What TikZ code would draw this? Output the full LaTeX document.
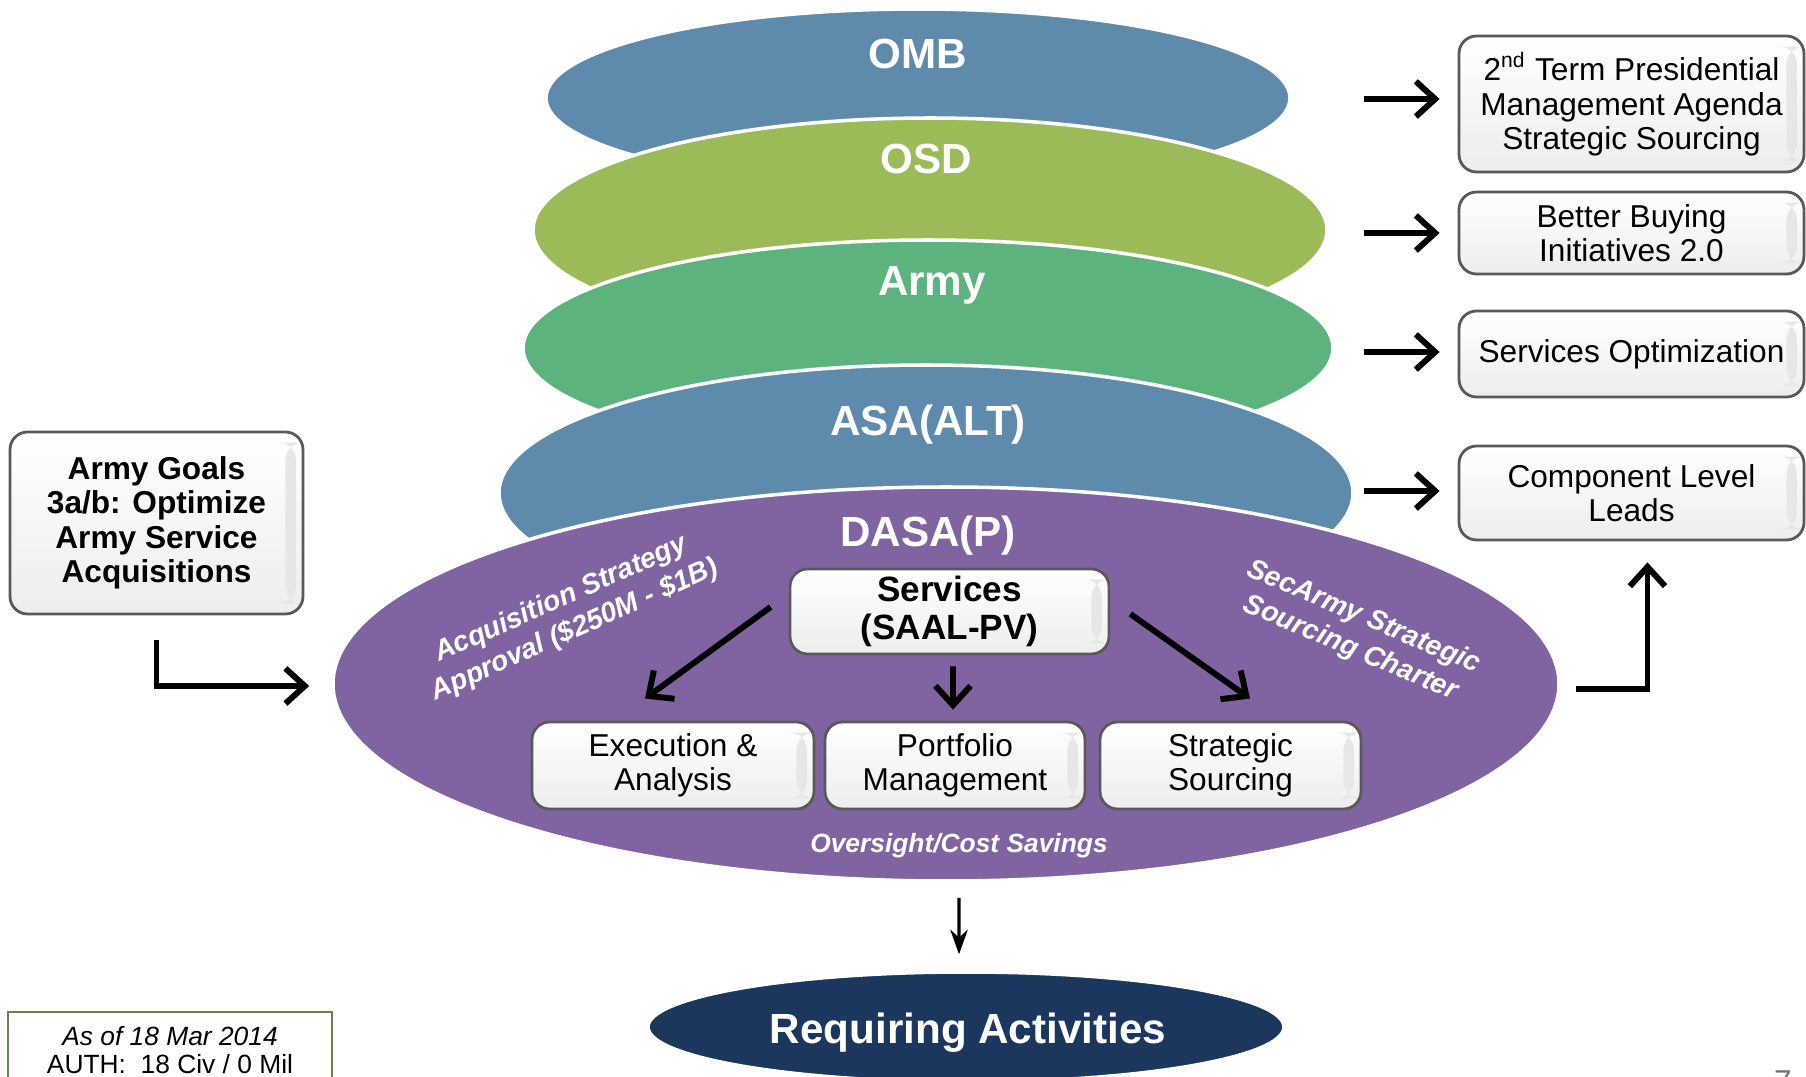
\documentclass[tikz,border=0pt]{standalone}
\usepackage{fontspec}
\setmainfont{Liberation Sans}
\usepackage{tikz}
\usetikzlibrary{
    arrows.meta,
    calc,
    positioning,
    shapes.geometric
}
\definecolor{layerblue}{HTML}{5E8BAB}
\definecolor{osdgreen}{HTML}{9BBB59}
\definecolor{armygreen}{HTML}{5DB37E}
\definecolor{dasapurple}{HTML}{8064A2}
\definecolor{reqnavy}{HTML}{1B375E}
\definecolor{frameolive}{HTML}{6E8050}
\tikzset{
    every picture/.style = {
        > = {Straight Barb[length = 5.5pt, width = 10pt]}
    },
    layer/.style = {
        ellipse,
        draw = white,
        line width = 1pt,
        inner sep = 0pt
    },
    layer label/.style = {
        anchor = base,
        text = white,
        font = \fontsize{12}{14}\selectfont\bfseries
    },
    box/.style = {
        rectangle,
        rounded corners = 5pt,
        draw = black!65,
        line width = 0.8pt,
        top color = white,
        bottom color = black!7,
        align = center,
        inner sep = 1pt,
        font = \fontsize{9}{9.8}\selectfont,
        path picture = {
            \shade[left color = white, right color = black!10]
                ([xshift = -5pt, yshift = -3pt]path picture bounding box.north east)
                rectangle ([xshift = -2pt, yshift = 3pt]path picture bounding box.south east);
        }
    },
    flow/.style = {
        ->,
        line width = 1.7pt
    },
    note/.style = {
        text = white,
        align = center,
        font = \fontsize{8}{9.6}\selectfont\bfseries\itshape
    }
}

\begin{document}
\begin{tikzpicture}
    \useasboundingbox (0, 0) rectangle (18.06, -10.77);
    \node[layer, fill = layerblue, minimum width = 7.44cm, minimum height = 1.78cm] (omb) at (9.18, -0.98) {};
    \node[layer, fill = osdgreen, minimum width = 7.94cm, minimum height = 2.24cm] (osd) at (9.30, -2.30) {};
    \node[layer, fill = armygreen, minimum width = 8.10cm, minimum height = 2.16cm] (army) at (9.28, -3.48) {};
    \node[layer, fill = layerblue, minimum width = 8.54cm, minimum height = 2.56cm] (asa) at (9.26, -4.93) {};
    \node[layer, fill = dasapurple, minimum width = 12.26cm, minimum height = 3.94cm] (dasa) at (9.46, -6.84) {};
    \node[layer, fill = reqnavy, minimum width = 6.36cm, minimum height = 1.10cm] (req) at (9.66, -10.27) {};
    \node[layer label] (omb text) at (9.18, -0.69) {OMB};
    \node[layer label] (osd text) at (9.26, -1.74) {OSD};
    \node[layer label] (army text) at (9.32, -2.96) {Army};
    \node[layer label] (asa text) at (9.28, -4.36) {ASA(ALT)};
    \node[layer label] (dasa text) at (9.28, -5.46) {DASA(P)};
    \node[layer label] (req text) at (9.68, -10.43) {Requiring Activities};

    \node[box, minimum width = 3.45cm, minimum height = 1.36cm] (pma) at (16.315, -1.04)
        {2\textsuperscript{nd} Term Presidential\\Management Agenda\\Strategic Sourcing};
    \node[box, minimum width = 3.45cm, minimum height = 0.82cm] (bbi) at (16.315, -2.33)
        {Better Buying\\Initiatives 2.0};
    \node[box, minimum width = 3.45cm, minimum height = 0.86cm] (sopt) at (16.315, -3.54)
        {Services Optimization};
    \node[box, minimum width = 3.45cm, minimum height = 0.94cm] (cll) at (16.315, -4.93)
        {Component Level\\Leads};
    \node[box, font = \fontsize{9}{9.8}\selectfont\bfseries, minimum width = 2.93cm, minimum height = 1.82cm] (goals) at (1.565, -5.23)
        {Army Goals\\3a/b: Optimize\\Army Service\\Acquisitions};

    \node[box, font = \fontsize{10}{10.6}\selectfont\bfseries, minimum width = 3.19cm, minimum height = 0.85cm] (services) at (9.495, -6.115)
        {Services\\(SAAL-PV)};
    \node[box, minimum width = 2.82cm, minimum height = 0.87cm] (exec) at (6.73, -7.655)
        {Execution \&\\Analysis};
    \node[box, minimum width = 2.60cm, minimum height = 0.87cm] (port) at (9.55, -7.655)
        {Portfolio\\Management};
    \node[box, minimum width = 2.61cm, minimum height = 0.87cm] (strat) at (12.305, -7.655)
        {Strategic\\Sourcing};

    \node[note, rotate = 24] (approval) at (5.68, -6.15) {Acquisition Strategy\\Approval (\$250M - \$1B)};
    \node[note, rotate = -23] (charter) at (13.57, -6.33) {SecArmy Strategic\\Sourcing Charter};
    \node[note, anchor = base, font = \fontsize{7.5}{9}\selectfont\bfseries\itshape] (savings) at (9.59, -8.52) {Oversight/Cost Savings};

    \node[draw = frameolive, line width = 0.6pt, anchor = north, minimum width = 3.24cm, inner ysep = 4pt, align = center,
        font = \fontsize{7.5}{8}\selectfont] (asof) at (1.70, -10.11)
        {\textit{As of 18 Mar 2014}\\AUTH:\ \ 18 Civ / 0 Mil};
    \node[anchor = north, inner sep = 0pt, text = black!55, font = \fontsize{9}{10}\selectfont] (page) at (17.83, -10.70) {7};

    \draw[flow] ([xshift = -0.94cm, yshift = 0.05cm]pma.west) -- ([xshift = -0.18cm, yshift = 0.05cm]pma.west);
    \draw[flow] ([xshift = -0.94cm]bbi.west) -- ([xshift = -0.18cm]bbi.west);
    \draw[flow] ([xshift = -0.94cm, yshift = 0.02cm]sopt.west) -- ([xshift = -0.18cm, yshift = 0.02cm]sopt.west);
    \draw[flow] ([xshift = -0.94cm, yshift = 0.02cm]cll.west) -- ([xshift = -0.18cm, yshift = 0.02cm]cll.west);
    \draw[flow] ([yshift = -0.25cm]goals.south) |- ([xshift = -0.22cm, yshift = -0.02cm]dasa.west);
    \draw[flow] ([xshift = 0.15cm, yshift = -0.05cm]dasa.east) -| ([xshift = 0.16cm, yshift = -0.21cm]cll.south);
    \draw[flow] ([xshift = -0.18cm, yshift = 0.045cm]services.west) -- ([xshift = -0.28cm, yshift = 0.22cm]exec.north);
    \draw[flow] ([xshift = 0.035cm, yshift = -0.11cm]services.south) -- ([xshift = -0.02cm, yshift = 0.11cm]port.north);
    \draw[flow] ([xshift = 0.20cm, yshift = -0.025cm]services.east) -- ([xshift = 0.195cm, yshift = 0.22cm]strat.north);
    \draw[-{Stealth[length = 7pt, width = 5pt]}, line width = 0.9pt] ([xshift = 0.13cm, yshift = -0.15cm]dasa.south) -- ([xshift = -0.07cm, yshift = 0.16cm]req.north);
\end{tikzpicture}
\end{document}
